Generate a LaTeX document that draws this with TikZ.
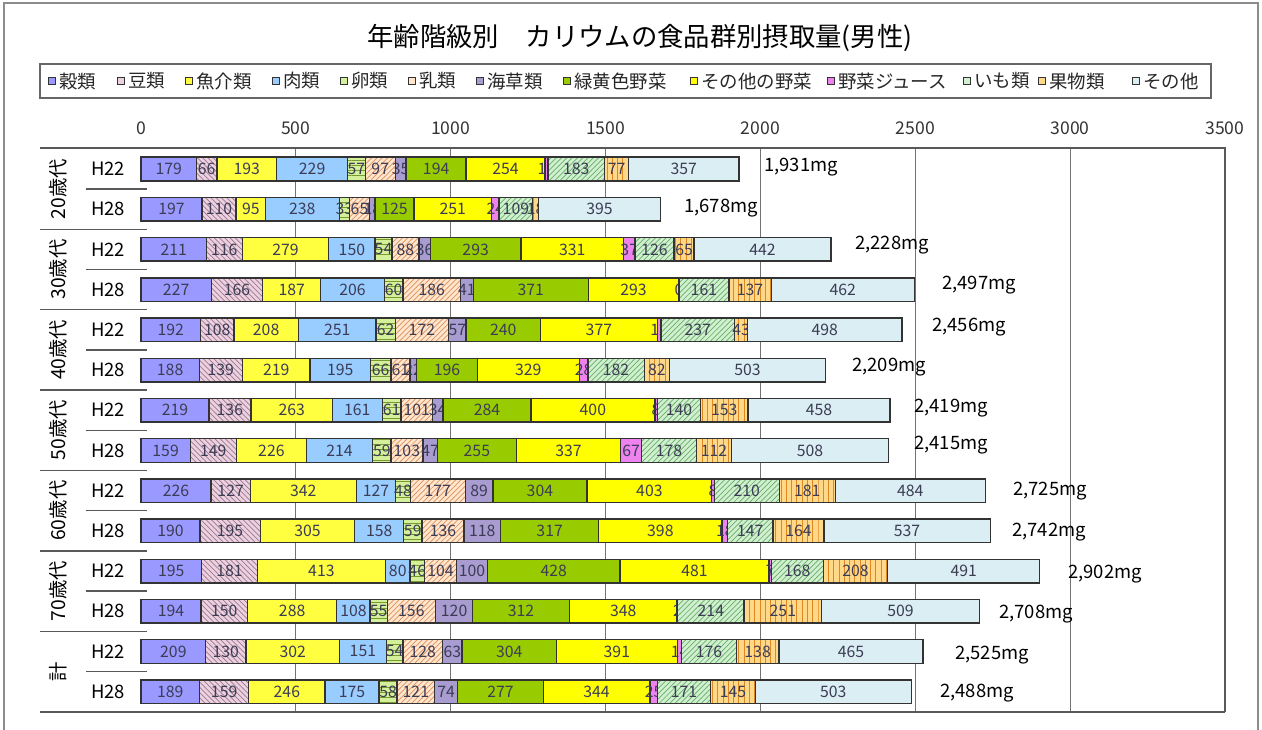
\documentclass[tikz,border=0pt]{standalone}
\usepackage{fontspec}
\setmainfont{Noto Sans CJK JP}
\usepackage{xcolor}
\usetikzlibrary{positioning, patterns}

\definecolor{cGrain}{HTML}{9999FF}
\definecolor{cBean}{HTML}{ECD2E0}
\definecolor{cBeanH}{HTML}{A07890}
\definecolor{cFish}{HTML}{FFFF40}
\definecolor{cMeat}{HTML}{99CCFF}
\definecolor{cEgg}{HTML}{D4F09A}
\definecolor{cEggH}{HTML}{7A9A30}
\definecolor{cMilk}{HTML}{FFE6CC}
\definecolor{cMilkH}{HTML}{DE9060}
\definecolor{cSea}{HTML}{A89CD0}
\definecolor{cGreen}{HTML}{99CC00}
\definecolor{cVeg}{HTML}{FFFF00}
\definecolor{cJuice}{HTML}{EE82EE}
\definecolor{cPotato}{HTML}{D0F0D0}
\definecolor{cPotatoH}{HTML}{6AAE6A}
\definecolor{cFruit}{HTML}{FFD88A}
\definecolor{cFruitH}{HTML}{E08820}
\definecolor{cOther}{HTML}{DAEEF3}
\definecolor{numtext}{HTML}{3C3C55}

\begin{document}
\begin{tikzpicture}[x=0.02cm, y=-0.02cm,
    seg/.style={draw=black!80, line width=0.8pt},
    num/.style={font=\fontsize{9}{9}\selectfont, text=numtext, inner sep=0pt},
    tot/.style={font=\fontsize{10.5}{11}\selectfont, anchor=west, inner sep=0pt},
    row/.style={font=\fontsize{10.5}{11}\selectfont, inner sep=0pt},
    grp/.style={font=\fontsize{11}{11}\selectfont, rotate=90, inner sep=0pt},
    axis/.style={font=\fontsize{10}{11}\selectfont, text=black!80, inner sep=0pt},
    legmark/.style={draw=black!80, line width=0.6pt, minimum size=4.5pt, inner sep=0pt},
    legtext/.style={font=\fontsize{10.5}{11}\selectfont, text=black!85, inner sep=0pt},
    grid/.style={draw=black!55, line width=0.6pt},
    rule/.style={draw=black!65, line width=0.8pt},
    cat1/.style={fill=cGrain},
    cat2/.style={preaction={fill=cBean}, pattern=north west lines, pattern color=cBeanH},
    cat3/.style={fill=cFish},
    cat4/.style={fill=cMeat},
    cat5/.style={preaction={fill=cEgg}, pattern=horizontal lines, pattern color=cEggH},
    cat6/.style={preaction={fill=cMilk}, pattern=north east lines, pattern color=cMilkH},
    cat7/.style={fill=cSea},
    cat8/.style={fill=cGreen},
    cat9/.style={fill=cVeg},
    cat10/.style={fill=cJuice},
    cat11/.style={preaction={fill=cPotato}, pattern=north east lines, pattern color=cPotatoH},
    cat12/.style={preaction={fill=cFruit}, pattern=vertical lines, pattern color=cFruitH},
    cat13/.style={fill=cOther}]
  \useasboundingbox (0,0) rectangle (1262,730);
  % frame
  \draw[black!45, line width=0.8pt] (4,735) -- (4,3) -- (1258,3) -- (1258,735);

  % title and legend
  \node[font=\fontsize{15}{16}\selectfont] (title) at (640,38) {年齢階級別　カリウムの食品群別摂取量(男性)};
  \draw[black!60, line width=1pt] (40,64) rectangle (1211,98);
  \foreach \x/\c/\t [count=\k] in {48/cGrain/穀類, 117/cBean/豆類, 185/cFish/魚介類,
      272/cMeat/肉類, 340/cEgg/卵類, 408/cMilk/乳類, 476/cSea/海草類,
      563/cGreen/緑黄色野菜, 690/cVeg/その他の野菜, 827/cJuice/野菜ジュース,
      963/cPotato/いも類, 1038/cFruit/果物類, 1132/cOther/その他} {
    \node[legmark, fill=\c] (m\k) at (\x+4,81) {};
    \node[legtext, right=1.5pt of m\k] (l\k) {\t};
  }

  % axis and grid
  \foreach \v [count=\i] in {0,500,...,3500}
    \node[axis] (a\i) at ({141+0.309714*\v},128) {\v};
  \foreach \v in {500,1000,...,3000}
    \draw[grid] ({141+0.309714*\v},148) -- ({141+0.309714*\v},712);
  \draw[rule] (40,148) -- (1225,148) -- (1225,712);
  \draw[rule] (40,712) -- (1225,712);
  \foreach \r in {0,...,12} {
    \pgfmathsetmacro\ys{189.1+40.2*\r}
    \ifodd\r
      \draw[rule] (40,\ys) -- (147,\ys);
    \else
      \draw[rule] (86,\ys) -- (147,\ys);
    \fi
  }

  % row and group labels
  \foreach \t [count=\g from 0] in {20歳代,30歳代,40歳代,50歳代,60歳代,70歳代,計}
    \node[grp] (g\g) at (58,{189.1+80.4*\g}) {\t};
  \foreach \r in {0,...,13}
    \node[row] (h\r) at (108,{169+40.2*\r}) {\ifodd\r H28\else H22\fi};

  % stacked bars
  \foreach \vals [count=\r from 0] in {
      {179,66,193,229,57,97,35,194,254,10,183,77,357},
      {197,110,95,238,33,65,18,125,251,24,109,18,395},
      {211,116,279,150,54,88,36,293,331,37,126,65,442},
      {227,166,187,206,60,186,41,371,293,0,161,137,462},
      {192,108,208,251,62,172,57,240,377,12,237,43,498},
      {188,139,219,195,66,61,22,196,329,28,182,82,503},
      {219,136,263,161,61,101,34,284,400,8,140,153,458},
      {159,149,226,214,59,103,47,255,337,67,178,112,508},
      {226,127,342,127,48,177,89,304,403,8,210,181,484},
      {190,195,305,158,59,136,118,317,398,18,147,164,537},
      {195,181,413,80,46,104,100,428,481,7,168,208,491},
      {194,150,288,108,55,156,120,312,348,2,214,251,509},
      {209,130,302,151,54,128,63,304,391,14,176,138,465},
      {189,159,246,175,58,121,74,277,344,25,171,145,503}} {
    \pgfmathsetmacro\yc{169+40.2*\r}
    \gdef\acc{0}
    \foreach \v [count=\k] in \vals {
      \pgfmathsetmacro\xa{141+0.309714*\acc}
      \pgfmathsetmacro\nxt{\acc+\v}
      \pgfmathsetmacro\xb{141+0.309714*\nxt}
      \draw[seg, cat\k] (\xa,\yc-11.8) rectangle (\xb,\yc+11.8);
      \node[num] (v\r-\k) at ({(\xa+\xb)/2},\yc) {\v};
      \xdef\acc{\nxt}
    }
  }

  % totals
  \foreach \x/\y/\t [count=\r from 0] in {{764/167/1,931mg}, {684/208/1,678mg},
      {855/245/2,228mg}, {942/285/2,497mg}, {932/327/2,456mg}, {852/367/2,209mg},
      {914/408/2,419mg}, {914/445/2,415mg}, {1013/491/2,725mg}, {1012/532/2,742mg},
      {1068/574/2,902mg}, {999/614/2,708mg}, {955/655/2,525mg}, {940/693/2,488mg}}
    \node[tot] (t\r) at (\x,\y) {\t};
\end{tikzpicture}
\end{document}
